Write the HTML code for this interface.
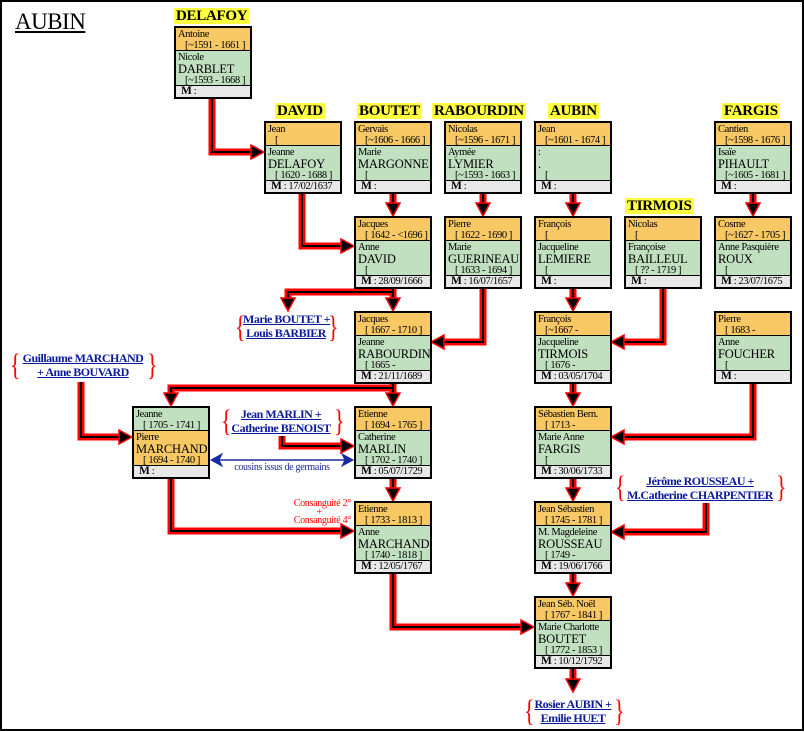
<!DOCTYPE html>
<html><head><meta charset="utf-8">
<style>
*{margin:0;padding:0;box-sizing:border-box}
body{width:804px;height:731px;background:#fff;position:relative;overflow:hidden;font-family:"Liberation Serif",serif;color:#000}
#frame{position:absolute;left:0;top:0;width:804px;height:731px;border:2px solid #000}
svg{position:absolute;left:0;top:0}
.t{position:absolute;left:15px;top:9px;font-size:23px;line-height:26px;text-decoration:underline;letter-spacing:-0.5px}
.h{position:absolute;background:#ffff40;font-weight:bold;font-size:15px;line-height:16px;padding:0 2px;letter-spacing:-0.3px}
.b{position:absolute;width:78px;height:73px;border:2px solid #000;background:#e8e8e8;font-size:10.5px;line-height:11px;letter-spacing:-0.4px;overflow:hidden}
.b div{white-space:nowrap}
.o{background:#f8c864;height:23px;border-bottom:1px solid #000;padding:1px 0 0 2px;overflow:hidden}
.g{background:#c0e0c0;height:35px;border-bottom:1px solid #000;padding:1px 0 0 2px;overflow:hidden}
.g2{background:#c0e0c0;height:23px;border-bottom:1px solid #000;padding:1px 0 0 2px}
.o2{background:#f8c864;height:35px;border-bottom:1px solid #000;padding:1px 0 0 2px;overflow:hidden}
.s{font-size:12.5px;line-height:12px;letter-spacing:-0.2px}
.d{padding-left:7px}
.m{padding-left:5px;font-size:10.5px;line-height:11px;white-space:nowrap}
.m b{font-size:11.5px}
.l{position:absolute;text-align:center;color:#0a1a9a;font-weight:bold;font-size:12px;line-height:14px;white-space:nowrap;letter-spacing:-0.5px}
.br{position:absolute;color:#f00;font-size:22px;line-height:30px;transform:scaleY(1.4);transform-origin:top}
</style></head><body>
<div id="frame"></div>
<div class="t">AUBIN</div>

<svg width="804" height="731">
<g fill="none" stroke="#f00" stroke-width="7">
<polyline points="212,97 212,152 256,152"/>
<polyline points="302,192 302,246 346,246"/>
<polyline points="393,192 393,206"/>
<polyline points="483,192 483,206"/>
<polyline points="573,192 573,206"/>
<polyline points="753,192 753,206"/>
<polyline points="393,287 393,301"/>
<polyline points="393,292 288,292 288,301"/>
<polyline points="483,287 483,342 439,342"/>
<polyline points="663,287 663,342 619,342"/>
<polyline points="573,287 573,301"/>
<polyline points="393,382 393,396"/>
<polyline points="393,388 171,388 171,396"/>
<polyline points="81,382 81,437 124,437"/>
<polyline points="282,436 282,446 346,446"/>
<polyline points="393,477 393,491"/>
<polyline points="171,477 171,531 346,531"/>
<polyline points="393,572 393,627 526,627"/>
<polyline points="753,382 753,437 619,437"/>
<polyline points="573,382 573,396"/>
<polyline points="573,477 573,491"/>
<polyline points="706,503 706,532 619,532"/>
<polyline points="573,572 573,586"/>
<polyline points="573,667 573,682"/>
</g>
<g fill="none" stroke="#000" stroke-width="2">
<polyline points="212,97 212,152 256,152"/>
<polyline points="302,192 302,246 346,246"/>
<polyline points="393,192 393,206"/>
<polyline points="483,192 483,206"/>
<polyline points="573,192 573,206"/>
<polyline points="753,192 753,206"/>
<polyline points="393,287 393,301"/>
<polyline points="393,292 288,292 288,301"/>
<polyline points="483,287 483,342 439,342"/>
<polyline points="663,287 663,342 619,342"/>
<polyline points="573,287 573,301"/>
<polyline points="393,382 393,396"/>
<polyline points="393,388 171,388 171,396"/>
<polyline points="81,382 81,437 124,437"/>
<polyline points="282,436 282,446 346,446"/>
<polyline points="393,477 393,491"/>
<polyline points="171,477 171,531 346,531"/>
<polyline points="393,572 393,627 526,627"/>
<polyline points="753,382 753,437 619,437"/>
<polyline points="573,382 573,396"/>
<polyline points="573,477 573,491"/>
<polyline points="706,503 706,532 619,532"/>
<polyline points="573,572 573,586"/>
<polyline points="573,667 573,682"/>
</g>
<g fill="#000" stroke="#f00" stroke-width="1.5">
<polygon points="264,152 251,145 251,159"/>
<polygon points="354,246 341,239 341,253"/>
<polygon points="132,437 119,430 119,444"/>
<polygon points="354,446 341,439 341,453"/>
<polygon points="354,531 341,524 341,538"/>
<polygon points="534,627 521,620 521,634"/>
<polygon points="431,342 444,335 444,349"/>
<polygon points="611,342 624,335 624,349"/>
<polygon points="611,437 624,430 624,444"/>
<polygon points="611,532 624,525 624,539"/>
<polygon points="393,216 386,203 400,203"/>
<polygon points="483,216 476,203 490,203"/>
<polygon points="573,216 566,203 580,203"/>
<polygon points="753,216 746,203 760,203"/>
<polygon points="393,311 386,298 400,298"/>
<polygon points="288,311 281,298 295,298"/>
<polygon points="573,311 566,298 580,298"/>
<polygon points="393,406 386,393 400,393"/>
<polygon points="171,406 164,393 178,393"/>
<polygon points="573,406 566,393 580,393"/>
<polygon points="393,501 386,488 400,488"/>
<polygon points="573,501 566,488 580,488"/>
<polygon points="573,596 566,583 580,583"/>
<polygon points="573,692 566,679 580,679"/>
</g>
<g stroke="#1a2aa0" fill="#1a2aa0">
<line x1="218" y1="460" x2="346" y2="460" stroke-width="1.5"/>
<polygon points="211,460 222,454 219,460 222,466"/>
<polygon points="353,460 342,454 345,460 342,466"/>
</g>
<text x="282" y="470" text-anchor="middle" font-family="Liberation Serif, serif" font-size="10" fill="#1a2aa0" letter-spacing="-0.3">cousins issus de germains</text>
<g font-family="Liberation Serif, serif" font-size="10" fill="#f00" text-anchor="end" letter-spacing="-0.3">
<text x="351" y="506">Consanguité 2°</text>
<text x="319" y="515" text-anchor="middle">+</text>
<text x="351" y="523">Consanguité 4°</text>
</g>
</svg>

<div class="h" style="left:174px;top:8px">DELAFOY</div>
<div class="h" style="left:275px;top:103px">DAVID</div>
<div class="h" style="left:357px;top:103px">BOUTET</div>
<div class="h" style="left:432px;top:103px">RABOURDIN</div>
<div class="h" style="left:548px;top:103px">AUBIN</div>
<div class="h" style="left:722px;top:103px">FARGIS</div>
<div class="h" style="left:625px;top:198px">TIRMOIS</div>

<div class="b" style="left:174px;top:26px"><div class="o">Antoine<div class="d">[~1591 - 1661 ]</div></div><div class="g">Nicole<div class="s">DARBLET</div><div class="d">[~1593 - 1668 ]</div></div><div class="m"><b>M</b> :</div></div>
<div class="b" style="left:264px;top:121px"><div class="o">Jean<div class="d">[</div></div><div class="g">Jeanne<div class="s">DELAFOY</div><div class="d">[ 1620 - 1688 ]</div></div><div class="m"><b>M</b> : 17/02/1637</div></div>
<div class="b" style="left:354px;top:121px"><div class="o">Gervais<div class="d">[~1606 - 1666 ]</div></div><div class="g">Marie<div class="s">MARGONNE</div><div class="d">[</div></div><div class="m"><b>M</b> :</div></div>
<div class="b" style="left:444px;top:121px"><div class="o">Nicolas<div class="d">[~1596 - 1671 ]</div></div><div class="g">Aymée<div class="s">LYMIER</div><div class="d">[~1593 - 1663 ]</div></div><div class="m"><b>M</b> :</div></div>
<div class="b" style="left:534px;top:121px"><div class="o">Jean<div class="d">[~1601 - 1674 ]</div></div><div class="g">:<div class="s">.</div><div class="d">[</div></div><div class="m"><b>M</b> :</div></div>
<div class="b" style="left:714px;top:121px"><div class="o">Cantien<div class="d">[~1598 - 1676 ]</div></div><div class="g">Isaïe<div class="s">PIHAULT</div><div class="d">[~1605 - 1681 ]</div></div><div class="m"><b>M</b> :</div></div>

<div class="b" style="left:354px;top:216px"><div class="o">Jacques<div class="d">[ 1642 - &lt;1696 ]</div></div><div class="g">Anne<div class="s">DAVID</div><div class="d">[</div></div><div class="m"><b>M</b> : 28/09/1666</div></div>
<div class="b" style="left:444px;top:216px"><div class="o">Pierre<div class="d">[ 1622 - 1690 ]</div></div><div class="g">Marie<div class="s">GUERINEAU</div><div class="d">[ 1633 - 1694 ]</div></div><div class="m"><b>M</b> : 16/07/1657</div></div>
<div class="b" style="left:534px;top:216px"><div class="o">François<div class="d">[</div></div><div class="g">Jacqueline<div class="s">LEMIERE</div><div class="d">[</div></div><div class="m"><b>M</b> :</div></div>
<div class="b" style="left:624px;top:216px"><div class="o">Nicolas<div class="d">[</div></div><div class="g">Françoise<div class="s">BAILLEUL</div><div class="d">[ ?? - 1719 ]</div></div><div class="m"><b>M</b> :</div></div>
<div class="b" style="left:714px;top:216px"><div class="o">Cosme<div class="d">[~1627 - 1705 ]</div></div><div class="g">Anne Pasquière<div class="s">ROUX</div><div class="d">[</div></div><div class="m"><b>M</b> : 23/07/1675</div></div>

<div class="b" style="left:354px;top:311px"><div class="o">Jacques<div class="d">[ 1667 - 1710 ]</div></div><div class="g">Jeanne<div class="s">RABOURDIN</div><div class="d">[ 1665 -</div></div><div class="m"><b>M</b> : 21/11/1689</div></div>
<div class="b" style="left:534px;top:311px"><div class="o">François<div class="d">[~1667 -</div></div><div class="g">Jacqueline<div class="s">TIRMOIS</div><div class="d">[ 1676 -</div></div><div class="m"><b>M</b> : 03/05/1704</div></div>
<div class="b" style="left:714px;top:311px"><div class="o">Pierre<div class="d">[ 1683 -</div></div><div class="g">Anne<div class="s">FOUCHER</div><div class="d">[</div></div><div class="m"><b>M</b> :</div></div>

<div class="b" style="left:132px;top:406px"><div class="g2">Jeanne<div class="d">[ 1705 - 1741 ]</div></div><div class="o2">Pierre<div class="s">MARCHAND</div><div class="d">[ 1694 - 1740 ]</div></div><div class="m"><b>M</b> :</div></div>
<div class="b" style="left:354px;top:406px"><div class="o">Etienne<div class="d">[ 1694 - 1765 ]</div></div><div class="g">Catherine<div class="s">MARLIN</div><div class="d">[ 1702 - 1740 ]</div></div><div class="m"><b>M</b> : 05/07/1729</div></div>
<div class="b" style="left:534px;top:406px"><div class="o">Sébastien Bern.<div class="d">[ 1713 -</div></div><div class="g">Marie Anne<div class="s">FARGIS</div><div class="d">[</div></div><div class="m"><b>M</b> : 30/06/1733</div></div>

<div class="b" style="left:354px;top:501px"><div class="o">Etienne<div class="d">[ 1733 - 1813 ]</div></div><div class="g">Anne<div class="s">MARCHAND</div><div class="d">[ 1740 - 1818 ]</div></div><div class="m"><b>M</b> : 12/05/1767</div></div>
<div class="b" style="left:534px;top:501px"><div class="o">Jean Sébastien<div class="d">[ 1745 - 1781 ]</div></div><div class="g">M. Magdeleine<div class="s">ROUSSEAU</div><div class="d">[ 1749 -</div></div><div class="m"><b>M</b> : 19/06/1766</div></div>
<div class="b" style="left:534px;top:596px"><div class="o">Jean Séb. Noël<div class="d">[ 1767 - 1841 ]</div></div><div class="g">Marie Charlotte<div class="s">BOUTET</div><div class="d">[ 1772 - 1853 ]</div></div><div class="m"><b>M</b> : 10/12/1792</div></div>

<div class="br" style="left:235px;top:306px">{</div><div class="br" style="left:328px;top:306px">}</div>
<div class="l" style="left:243px;top:312px;width:86px"><u>Marie BOUTET +</u><br><u>Louis BARBIER</u></div>

<div class="br" style="left:10px;top:344px">{</div><div class="br" style="left:147px;top:344px">}</div>
<div class="l" style="left:18px;top:351px;width:130px"><u>Guillaume MARCHAND</u><br><u>+ Anne BOUVARD</u></div>

<div class="br" style="left:221px;top:400px">{</div><div class="br" style="left:334px;top:400px">}</div>
<div class="l" style="left:228px;top:407px;width:106px"><u>Jean MARLIN +</u><br><u>Catherine BENOIST</u></div>

<div class="br" style="left:615px;top:466px">{</div><div class="br" style="left:776px;top:466px">}</div>
<div class="l" style="left:622px;top:474px;width:156px"><u>Jérôme ROUSSEAU +</u><br><u>M.Catherine CHARPENTIER</u></div>

<div class="br" style="left:524px;top:690px">{</div><div class="br" style="left:614px;top:690px">}</div>
<div class="l" style="left:531px;top:697px;width:84px"><u>Rosier AUBIN +</u><br><u>Emilie HUET</u></div>
</body></html>
